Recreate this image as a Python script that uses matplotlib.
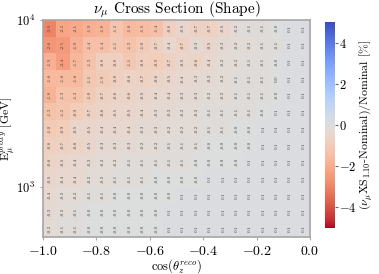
import numpy as np
import matplotlib
matplotlib.use("Agg")
import matplotlib.pyplot as plt

plt.rcParams['font.family'] = 'serif'
plt.rcParams['font.serif'] = ['cmr10', 'DejaVu Serif']
plt.rcParams['mathtext.fontset'] = 'cm'
plt.rcParams['axes.formatter.use_mathtext'] = True

# bins: cos(theta_z) in 20 bins, log10(E) from 2.7 to 4.0 in 13 bins
cos_edges = np.linspace(-1.0, 0.0, 21)
e_edges = 10 ** np.linspace(2.7, 4.0, 14)

# shift in %, rows from highest energy (top) to lowest (bottom)
shift = [
    [-3.0, -2.2, -2.1, -1.9, -1.8, -1.2, -1.6, -1.5, -1.4, -0.8, -0.5, -0.7, -0.7, -0.5, -0.2, -0.1, -0.1, -0.0, 0.1, 0.1],
    [-2.6, -2.5, -1.9, -1.4, -1.4, -1.1, -1.3, -1.0, -0.7, -0.4, -0.7, -0.3, -0.5, -0.3, -0.2, -0.2, -0.1, -0.1, 0.1, 0.1],
    [-1.9, -2.4, -1.7, -1.3, -0.8, -0.8, -1.1, -0.8, -0.9, -0.7, -0.5, -0.6, -0.4, -0.2, -0.2, -0.1, -0.1, -0.0, 0.1, 0.1],
    [-1.6, -1.6, -1.6, -1.1, -1.0, -0.8, -0.6, -0.7, -0.6, -0.5, -0.4, -0.3, -0.3, -0.2, -0.1, -0.1, -0.1, 0.0, 0.1, 0.1],
    [-1.8, -1.3, -1.3, -1.0, -0.7, -0.6, -0.6, -0.5, -0.4, -0.4, -0.3, -0.3, -0.2, -0.2, -0.1, -0.1, -0.1, -0.0, 0.1, 0.1],
    [-1.3, -1.2, -0.9, -0.7, -0.6, -0.5, -0.5, -0.4, -0.3, -0.3, -0.2, -0.2, -0.1, -0.1, -0.1, -0.1, -0.0, 0.1, 0.1, 0.1],
    [-1.0, -0.9, -0.5, -0.5, -0.4, -0.4, -0.4, -0.3, -0.3, -0.2, -0.2, -0.2, -0.1, -0.1, -0.0, -0.0, 0.1, 0.1, 0.1, 0.1],
    [-0.8, -0.7, -0.6, -0.5, -0.3, -0.3, -0.3, -0.2, -0.2, -0.1, -0.1, -0.1, -0.0, -0.0, -0.0, -0.0, 0.1, 0.1, 0.1, 0.1],
    [-0.6, -0.5, -0.4, -0.3, -0.2, -0.2, -0.1, -0.1, -0.1, -0.1, -0.1, -0.0, -0.0, -0.0, -0.0, 0.1, 0.1, 0.1, 0.1, 0.1],
    [-0.5, -0.4, -0.4, -0.2, -0.2, -0.1, -0.1, -0.1, -0.0, -0.0, -0.0, -0.0, 0.1, 0.1, 0.1, 0.1, 0.1, 0.1, 0.1, 0.1],
    [-0.4, -0.2, -0.2, -0.1, -0.1, -0.0, -0.0, -0.0, -0.0, -0.0, 0.1, 0.1, 0.1, 0.1, 0.1, 0.1, 0.1, 0.1, 0.1, 0.1],
    [-0.3, -0.2, -0.1, -0.0, -0.0, -0.0, -0.0, -0.0, -0.0, 0.1, 0.1, 0.1, 0.1, 0.1, 0.1, 0.1, 0.1, 0.1, 0.1, 0.1],
    [-0.2, -0.1, -0.1, -0.0, -0.0, -0.0, -0.0, -0.0, -0.0, 0.1, 0.1, 0.1, 0.1, 0.1, 0.1, 0.1, 0.1, 0.1, 0.1, 0.1],
]

Z = np.array(shift)[::-1]  # bottom row first for pcolormesh

fig = plt.figure(figsize=(3.79, 2.74), dpi=100)
ax = fig.add_axes([0.113, 0.135, 0.705, 0.792])
cax = fig.add_axes([0.858, 0.168, 0.026, 0.752])

mesh = ax.pcolormesh(cos_edges, e_edges, Z, cmap='coolwarm_r', vmin=-5, vmax=5)
ax.set_yscale('log')
ax.set_xlim(-1.0, 0.0)
ax.set_ylim(e_edges[0], e_edges[-1])

xc = 0.5 * (cos_edges[:-1] + cos_edges[1:])
yc = np.sqrt(e_edges[:-1] * e_edges[1:])
for i in range(len(yc)):
    for j in range(len(xc)):
        ax.text(xc[j], yc[i], f"{Z[i, j]:.1f}", rotation=90, ha='center', va='center',
                fontsize=3.6, color='0.25')

for s in ax.spines.values():
    s.set_color('0.65')
    s.set_linewidth(1.2)
ax.tick_params(colors='0.65', labelcolor='black', labelsize=10, length=2)
ax.tick_params(axis='y', labelsize=9)
ax.tick_params(which='minor', length=0)

ax.set_title(r'$\nu_\mu$ Cross Section (Shape)', fontsize=11, pad=2)
ax.set_xlabel(r'$\cos(\theta_z^{reco})$', fontsize=9, labelpad=0)
ax.set_ylabel(r'E$_\mu^{proxy}$ [GeV]', fontsize=8.5)
ax.yaxis.set_label_coords(-0.095, 0.5)

cb = fig.colorbar(mesh, cax=cax)
cb.set_ticks([-4, -2, 0, 2, 4])
cb.outline.set_visible(False)
cax.tick_params(labelsize=9, length=2, colors='0.4', labelcolor='black', pad=1)
cb.set_label(r'($\nu_\mu$XS$_{1.10}$-Nominal)/Nominal [%]', fontsize=8.5, labelpad=1)

fig.savefig('out.png', dpi=100)
